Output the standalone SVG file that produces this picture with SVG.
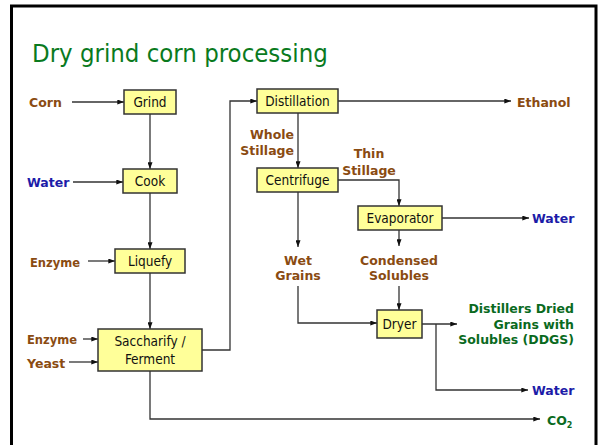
<svg xmlns="http://www.w3.org/2000/svg" width="600" height="445" viewBox="0 0 600 445">
<style>
.box{fill:#ffff99;stroke:#333;stroke-width:1.5}
.bt{font-family:"DejaVu Sans Condensed","DejaVu Sans",sans-serif;font-stretch:condensed;font-size:13.5px;fill:#111;text-anchor:middle}
.lb{font-family:"DejaVu Sans","Liberation Sans",sans-serif;font-weight:bold;font-size:12.5px}
.br{fill:#8a4b12}
.bl{fill:#1c1ca8}
.gr{fill:#0a6a1e}
.ln{fill:none;stroke:#333;stroke-width:1.3}
</style>
<defs>
<marker id="ah" viewBox="0 0 8 6" refX="8" refY="3" markerWidth="7" markerHeight="5" markerUnits="userSpaceOnUse" orient="auto">
<path d="M0,0 L8,3 L0,6 z" fill="#111"/>
</marker>
</defs>
<rect x="0" y="0" width="600" height="445" fill="#fff"/>
<rect x="11.5" y="6" width="584.5" height="450" fill="none" stroke="#000" stroke-width="3"/>
<text x="32" y="62" font-family="DejaVu Sans Condensed,DejaVu Sans,sans-serif" font-stretch="condensed" font-size="25.5" fill="#0a7a1e">Dry grind corn processing</text>

<g id="connectors">
<path class="ln" d="M72,102 H124" marker-end="url(#ah)"/>
<path class="ln" d="M150,114 V169" marker-end="url(#ah)"/>
<path class="ln" d="M73,182 H123" marker-end="url(#ah)"/>
<path class="ln" d="M150,193 V249" marker-end="url(#ah)"/>
<path class="ln" d="M88,261 H115" marker-end="url(#ah)"/>
<path class="ln" d="M150,273 V329" marker-end="url(#ah)"/>
<path class="ln" d="M83,339 H98" marker-end="url(#ah)"/>
<path class="ln" d="M69,362 H98" marker-end="url(#ah)"/>
<path class="ln" d="M202,350 H230 V101 H257" marker-end="url(#ah)"/>
<path class="ln" d="M150,371 V419 H540" marker-end="url(#ah)"/>
<path class="ln" d="M338,101 H511" marker-end="url(#ah)"/>
<path class="ln" d="M298,113 V168" marker-end="url(#ah)"/>
<path class="ln" d="M338,180 H399 V206" marker-end="url(#ah)"/>
<path class="ln" d="M442,218 H529" marker-end="url(#ah)"/>
<path class="ln" d="M298,192 V247" marker-end="url(#ah)"/>
<path class="ln" d="M298,286 V323 H377" marker-end="url(#ah)"/>
<path class="ln" d="M399,230 V246" marker-end="url(#ah)"/>
<path class="ln" d="M399,286 V310" marker-end="url(#ah)"/>
<path class="ln" d="M422,324 H457" marker-end="url(#ah)"/>
<path class="ln" d="M436,324 V390 H528" marker-end="url(#ah)"/>
</g>

<g id="grind"><rect class="box" x="124" y="90" width="52" height="24"/><text class="bt" x="150" y="107">Grind</text></g>
<g id="cook"><rect class="box" x="123" y="169" width="54" height="24"/><text class="bt" x="150" y="186">Cook</text></g>
<g id="liquefy"><rect class="box" x="115" y="249" width="70" height="24"/><text class="bt" x="150" y="266">Liquefy</text></g>
<g id="saccharify"><rect class="box" x="98" y="329" width="104" height="42"/><text class="bt" x="150" y="346">Saccharify /</text><text class="bt" x="150" y="364">Ferment</text></g>
<g id="distillation"><rect class="box" x="257" y="89" width="81" height="24"/><text class="bt" x="297.5" y="106">Distillation</text></g>
<g id="centrifuge"><rect class="box" x="257" y="168" width="81" height="24"/><text class="bt" x="297.5" y="185">Centrifuge</text></g>
<g id="evaporator"><rect class="box" x="358" y="206" width="84" height="24"/><text class="bt" x="400" y="223">Evaporator</text></g>
<g id="dryer"><rect class="box" x="377" y="310" width="45" height="28"/><text class="bt" x="399.5" y="329">Dryer</text></g>

<g id="labels">
<text class="lb br" x="29" y="107">Corn</text>
<text class="lb bl" x="27" y="187">Water</text>
<text class="lb br" x="30" y="267" textLength="50" lengthAdjust="spacingAndGlyphs">Enzyme</text>
<text class="lb br" x="27" y="344" textLength="50" lengthAdjust="spacingAndGlyphs">Enzyme</text>
<text class="lb br" x="27" y="368">Yeast</text>
<text class="lb br" x="517" y="107">Ethanol</text>
<text class="lb bl" x="532" y="223">Water</text>
<text class="lb bl" x="532" y="395">Water</text>
<text class="lb gr" x="547" y="425">CO<tspan font-size="8" dy="3">2</tspan></text>
<text class="lb br" x="294" y="139" text-anchor="end">Whole</text>
<text class="lb br" x="294" y="155" text-anchor="end">Stillage</text>
<text class="lb br" x="369" y="158" text-anchor="middle">Thin</text>
<text class="lb br" x="369" y="175" text-anchor="middle">Stillage</text>
<text class="lb br" x="298" y="265" text-anchor="middle">Wet</text>
<text class="lb br" x="298" y="280" text-anchor="middle">Grains</text>
<text class="lb br" x="399" y="265" text-anchor="middle">Condensed</text>
<text class="lb br" x="399" y="280" text-anchor="middle">Solubles</text>
<text class="lb gr" x="574" y="313" text-anchor="end">Distillers Dried</text>
<text class="lb gr" x="574" y="329" text-anchor="end">Grains with</text>
<text class="lb gr" x="574" y="344" text-anchor="end">Solubles (DDGS)</text>
</g>
</svg>
